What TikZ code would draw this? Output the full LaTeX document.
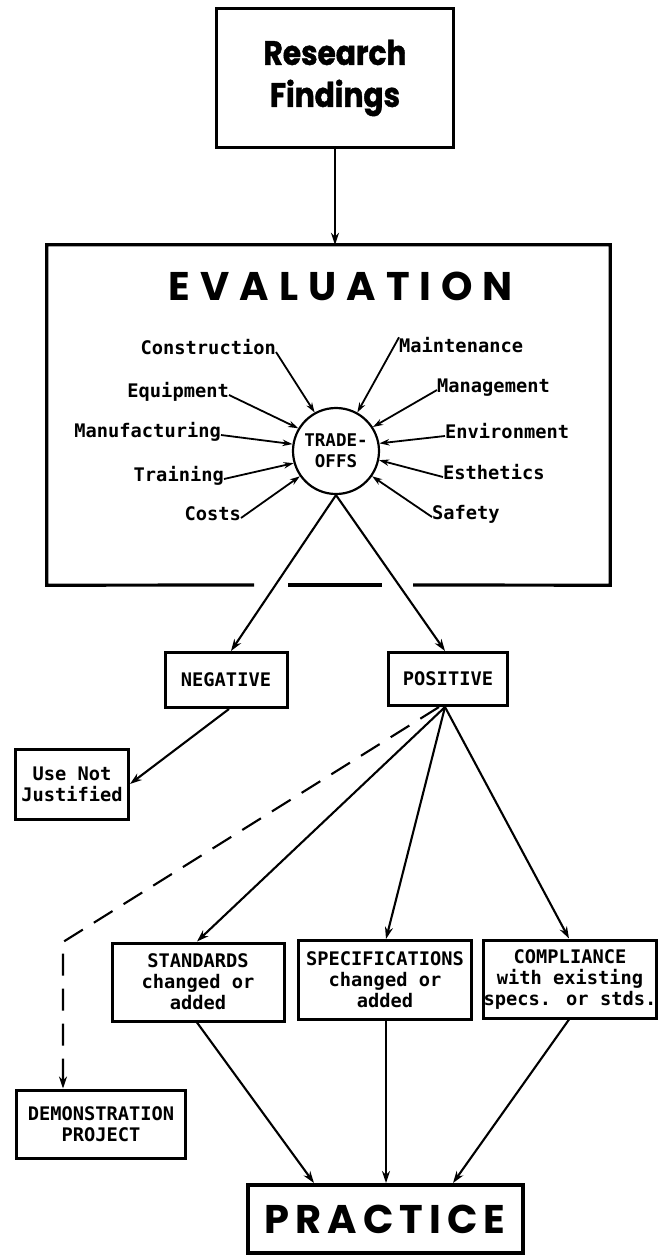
\documentclass[tikz,border=0pt]{standalone}
\usepackage{fontspec}
\setmainfont{DejaVu Sans Mono}
\newfontfamily\headfont{Poppins}[FakeStretch=0.87, FakeBold=1.2]
\newfontfamily\evalfont{Poppins}[LetterSpace=25]
\newfontfamily\pracfont{Poppins}[LetterSpace=15]
\usetikzlibrary{arrows.meta}
\begin{document}
\begin{tikzpicture}[x=1pt,y=-1pt,
  mono/.style={font=\bfseries\fontsize{18.7}{21}\selectfont},
  box/.style={draw, line width=3pt, inner sep=0pt, align=center, mono},
  lab/.style={inner sep=0pt, mono},
  arr/.style={-{Stealth[length=12pt,width=8pt]}, line width=2.1pt},
  sarr/.style={-{Stealth[length=10pt,width=6.5pt]}, line width=1.8pt},
  dasharr/.style={arr, dash pattern=on 22pt off 13pt}]
\useasboundingbox (0,0) rectangle (662,1255);

% Research findings
\node[box, line width=3.4pt, minimum width=237pt, minimum height=139pt,
      font=\headfont\bfseries\fontsize{34}{42}\selectfont] (rf) at (335,78) {Research\\Findings};

% Evaluation frame
\node[minimum width=563pt, minimum height=340pt, inner sep=0pt] (ev) at (328.5,415) {};
\draw[line width=3.2pt] (254,585) -- (ev.south west) -- (ev.north west) -- (ev.north east) -- (ev.south east) -- (413,585);
\draw[line width=3.2pt] (288,585) -- (382,585);
\node[inner sep=0pt, font=\evalfont\bfseries\fontsize{40}{44}\selectfont] (evt) at (341,286) {EVALUATION};
\draw[arr] (rf.south) -- (rf.south |- ev.north);

% Trade-offs
\node[circle, draw, line width=2.2pt, minimum size=86pt, inner sep=0pt, align=center,
      font=\bfseries\fontsize{17.5}{21}\selectfont] (to) at (336,451) {TRADE-\\OFFS};

\node[lab, anchor=mid east] (con) at (276,352) {Construction};
\node[lab, anchor=mid east] (eq) at (229,395) {Equipment};
\node[lab, anchor=mid east] (mf) at (221,435) {Manufacturing};
\node[lab, anchor=mid east] (tr) at (224,479) {Training};
\node[lab, anchor=mid east] (co) at (241,518) {Costs};
\node[lab, anchor=mid west] (mai) at (399,350) {Maintenance};
\node[lab, anchor=mid west] (man) at (437,390) {Management};
\node[lab, anchor=mid west] (env) at (445,436) {Environment};
\node[lab, anchor=mid west] (es) at (443,477) {Esthetics};
\node[lab, anchor=mid west] (sa) at (432,517) {Safety};

\draw[sarr] (con.mid east) -- (to.119);
\draw[sarr] (eq.mid east) -- (to.149);
\draw[sarr] (mf.mid east) -- (to.171);
\draw[sarr] (tr.mid east) -- (to.196);
\draw[sarr] (co.mid east) -- (to.215);
\draw[sarr] (mai.north west) -- (to.61);
\draw[sarr] (man.mid west) -- (to.33);
\draw[sarr] (env.mid west) -- (to.10);
\draw[sarr] (es.mid west) -- (to.348);
\draw[sarr] (sa.mid west) -- (to.325);

% Outcome boxes
\node[box, minimum width=122pt, minimum height=55pt] (neg) at (226,680) {NEGATIVE};
\node[box, minimum width=119pt, minimum height=53pt] (pos) at (448,679) {POSITIVE};
\node[box, minimum width=113pt, minimum height=70pt] (unj) at (72,784) {Use Not\\Justified};

\draw[arr] (to.south) -- ([xshift=5pt]neg.north);
\draw[arr] (to.south) -- ([xshift=-3pt]pos.north);
\draw[arr] ([xshift=3pt]neg.south) -- (unj.east);

\node[box, minimum width=172pt, minimum height=78pt] (std) at (198,982) {STANDARDS\\changed or\\added};
\node[box, minimum width=173pt, minimum height=79pt] (spec) at (385,980) {SPECIFICATIONS\\changed or\\added};
\node[box, minimum width=172pt, minimum height=78pt] (comp) at (570,979) {COMPLIANCE\\with existing\\specs. or stds.};
\node[box, minimum width=169pt, minimum height=68pt] (demo) at (101,1124) {DEMONSTRATION\\PROJECT};
\node[box, line width=4pt, minimum width=275pt, minimum height=68pt,
      font=\pracfont\bfseries\fontsize{40}{44}\selectfont] (prac) at (385,1219) {PRACTICE};

\draw[arr] ([xshift=-3pt]pos.south) -- ([xshift=-1pt]std.north);
\draw[arr] ([xshift=-3pt]pos.south) -- ([xshift=1pt]spec.north);
\draw[arr] ([xshift=-3pt]pos.south) -- ([xshift=-1pt]comp.north);
\coordinate (bend) at (63,942);
\draw[dasharr] ([xshift=-9pt]pos.south) -- (bend) -- (bend |- demo.north);

\draw[arr] ([xshift=-1pt]std.south) -- ([xshift=-71pt]prac.north);
\draw[arr] ([xshift=1pt]spec.south) -- ([xshift=1pt]prac.north);
\draw[arr] ([xshift=-1pt]comp.south) -- ([xshift=68pt]prac.north);
\end{tikzpicture}
\end{document}
